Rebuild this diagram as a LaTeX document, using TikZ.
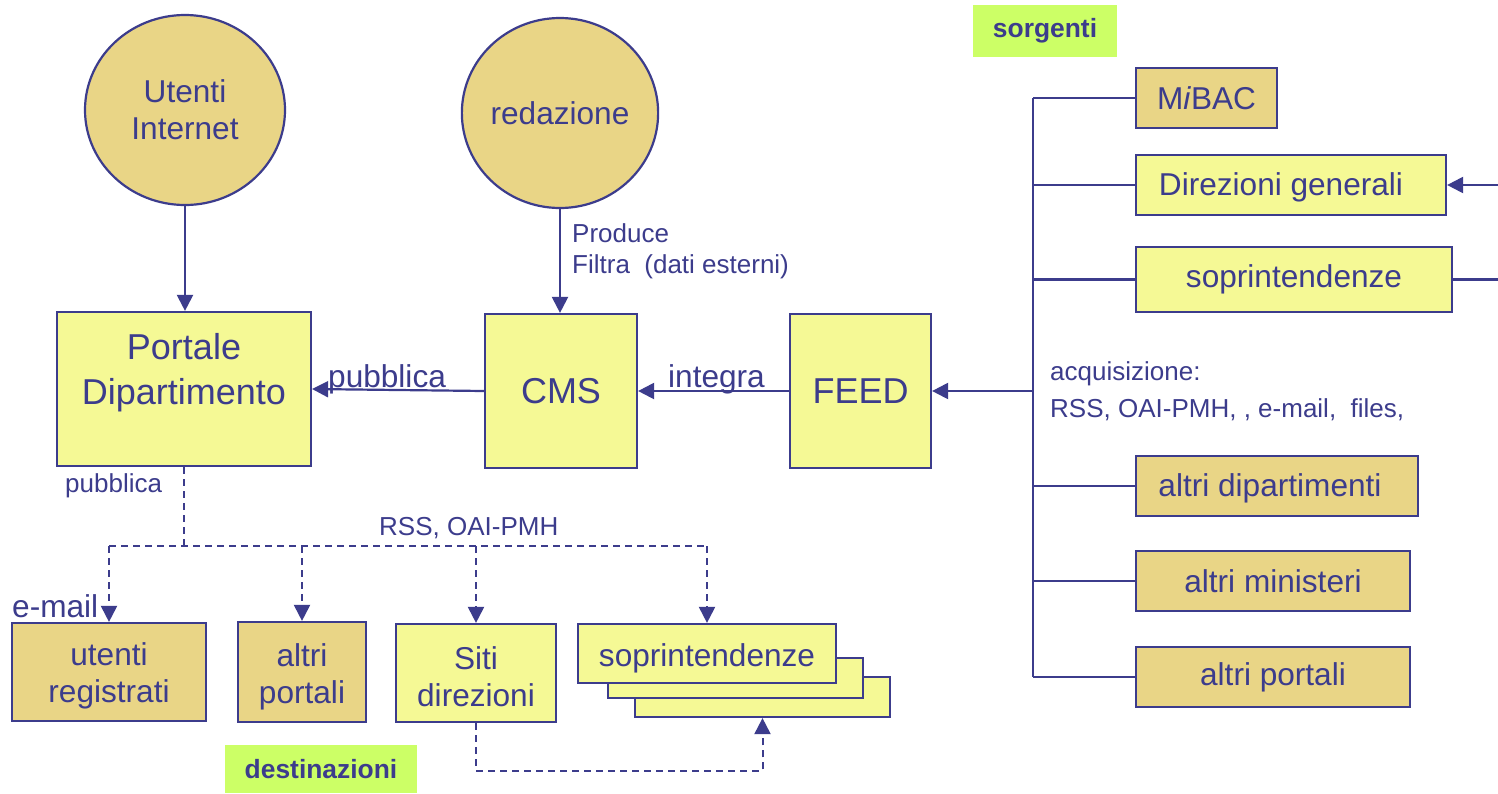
\documentclass[tikz,border=0pt]{standalone}
\usepackage{fontspec}
\setmainfont{Liberation Sans}
\usetikzlibrary{arrows.meta,shapes.geometric}
\definecolor{ink}{HTML}{3C3C8C}
\definecolor{tanfill}{HTML}{E9D586}
\definecolor{yelfill}{HTML}{F5F995}
\definecolor{limefill}{HTML}{CCFF66}
\newcommand\fsz[2]{\fontsize{#1}{#2}\selectfont}
\begin{document}
\begin{tikzpicture}[x=1pt,y=-1pt,
 box/.style={draw=ink,line width=2.2pt,text=ink,inner sep=0pt,align=center,font=\fsz{31.6}{37}},
 ybox/.style={box,fill=yelfill},
 tbox/.style={box,fill=tanfill},
 bigtxt/.style={font=\fsz{36}{45}},
 intxt/.style={text=ink,inner sep=0pt,align=center,font=\fsz{31.6}{37}},
 circ/.style={tbox,ellipse},
 tag/.style={fill=limefill,text=ink,inner sep=0pt,font=\fsz{26.4}{30}\bfseries},
 lbl/.style={text=ink,inner sep=0pt,font=\fsz{26}{30}},
 lblbig/.style={text=ink,inner sep=0pt,font=\fsz{31.6}{37}},
 ln/.style={draw=ink,line width=2.2pt},
 arr/.style={-{Triangle[length=16pt,width=16pt]}},
 dsh/.style={draw=ink,line width=2pt,dash pattern=on 7pt off 5pt}]
\useasboundingbox (0,0) rectangle (1498,793);
\fill[white] (0,0) rectangle (1498,793);

% circles
\node[circ,minimum width=200pt,minimum height=190pt] (ui) at (185,110) {Utenti\\Internet};
\node[circ,minimum width=194pt,minimum height=190pt] (red) at (560,113) {redazione};

% main row
\node[ybox,minimum width=254pt,minimum height=154pt] (portale) at (184,389) {};
\node[intxt,bigtxt] (portaleT) at (184,373) {Portale\\Dipartimento};
\node[ybox,bigtxt,minimum width=152pt,minimum height=154pt] (cms) at (561,391) {CMS};
\node[ybox,bigtxt,minimum width=141pt,minimum height=154pt] (feed) at (860.5,391) {FEED};

% sources
\node[tag,minimum width=144pt,minimum height=52pt] (src) at (1045,31) {sorgenti};
\node[tbox,minimum width=141pt,minimum height=60pt] (mibac) at (1206.5,98) {M\textit{i}BAC};
\node[ybox,minimum width=310pt,minimum height=60pt] (dg) at (1291,185) {};
\node[intxt] (dgT) at (1281,187) {Direzioni generali};
\node[ybox,minimum width=316pt,minimum height=65pt] (sopr) at (1294,279.5) {soprintendenze};
\node[tbox,minimum width=282pt,minimum height=60pt] (adip) at (1277,486) {};
\node[intxt] (adipT) at (1270,488) {altri dipartimenti};
\node[tbox,minimum width=274pt,minimum height=60pt] (amin) at (1273,581) {altri ministeri};
\node[tbox,minimum width=274pt,minimum height=60pt] (apor) at (1273,677) {altri portali};

% destinations
\node[tbox,minimum width=194pt,minimum height=98pt] (ur) at (109,672) {};
\node[intxt] (urT) at (109,676) {utenti\\registrati};
\node[tbox,minimum width=128pt,minimum height=100pt] (ap) at (302,672) {};
\node[intxt] (apT) at (302,677) {altri\\portali};
\node[ybox,minimum width=160pt,minimum height=98pt] (siti) at (476,673) {};
\node[intxt] (sitiT) at (476,677) {Siti\\direzioni};
\node[ybox,minimum width=255pt,minimum height=40pt] (sp3) at (762.5,697) {};
\node[ybox,minimum width=255pt,minimum height=40pt] (sp2) at (735.5,678) {};
\node[ybox,minimum width=258pt,minimum height=59pt] (sp1) at (707,653.5) {};
\node[intxt] (sp1T) at (707,658) {soprintendenze};
\node[tag,minimum width=192pt,minimum height=48pt] (dst) at (321,769) {destinazioni};

% labels
\node[lbl,anchor=base west] (lprod) at (572,242) {Produce};
\node[lbl,anchor=base west] (lfil) at (572,273) {Filtra \ (dati esterni)};
\node[lblbig,anchor=base west] (lpub) at (328,387) {pubblica};
\node[lblbig,anchor=base west] (lint) at (668,387) {integra};
\node[lbl,anchor=base west] (lpub2) at (65,492) {pubblica};
\node[lbl,anchor=base west] (lrss) at (379,535) {RSS, OAI-PMH};
\node[lblbig,anchor=base west] (lmail) at (12,617) {e-mail};
\node[lbl,anchor=base west] (lacq) at (1050,380) {acquisizione:};
\node[lbl,anchor=base west] (lacq2) at (1050,417) {RSS, OAI-PMH, , e-mail, \ files,};

% top connectors
\draw[ln,arr] (ui.south) -- (ui.south |- portale.north);
\draw[ln,arr] (red.south) -- (red.south |- cms.north);
\draw[ln,arr] (cms.west) -- (portale.east);
\draw[ln,arr] (feed.west) -- (cms.east);

% source bus
\coordinate (bt) at (1033,98);
\coordinate (bb) at (1033,677);
\draw[ln] (bt) -- (bb);
\draw[ln] (bt) -- (mibac.west);
\draw[ln] (bt |- dg.west) -- (dg.west);
\draw[ln] (bt |- sopr.west) -- (sopr.west);
\draw[ln] (bt |- adip.west) -- (adip.west);
\draw[ln] (bt |- amin.west) -- (amin.west);
\draw[ln] (bb) -- (apor.west);
\draw[ln,arr] (bt |- feed.east) -- (feed.east);
\coordinate (dgin) at (1498,185);
\draw[ln,arr] (dgin) -- (dg.east);
\coordinate (spout) at (1498,279.5);
\draw[ln] (sopr.east) -- (spout);

% publication (dashed)
\coordinate (hub) at (184,546);
\draw[dsh] (portale.south) -- (hub);
\draw[dsh] (ur.north |- hub) -- (sp1.north |- hub);
\draw[dsh,arr] (ur.north |- hub) -- (ur.north);
\draw[dsh,arr] (ap.north |- hub) -- (ap.north);
\draw[dsh,arr] (siti.north |- hub) -- (siti.north);
\draw[dsh,arr] (sp1.north |- hub) -- (sp1.north);
\coordinate (sdl) at (476,771);
\draw[dsh,arr] (siti.south) -- (sdl) -| (sp3.south);
\end{tikzpicture}
\end{document}
